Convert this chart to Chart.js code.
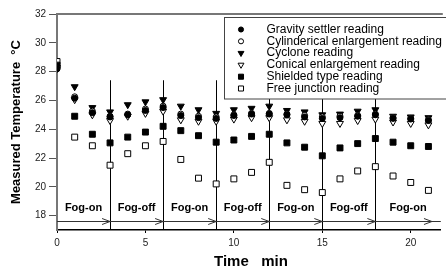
<!DOCTYPE html>
<html>
<head>
<meta charset="utf-8">
<script src="https://cdn.jsdelivr.net/npm/chart.js@4.4.1/dist/chart.umd.min.js"></script>
<style>
  html, body { margin: 0; padding: 0; background: #fff; }
</style>
</head>
<body>
<canvas id="graficoTemp" width="446" height="267"></canvas>
<script>
const times = [0, 1, 2, 3, 4, 5, 6, 7, 8, 9, 10, 11, 12, 13, 14, 15, 16, 17, 18, 19, 20, 21];

const gravity     = [28.2, 26.15, 25.15, 24.85, 25.0, 25.3, 25.5, 24.95, 24.8, 24.75, 24.95, 25.05, 25.05, 25.0, 24.85, 24.75, 24.8, 24.9, 25.0, 24.75, 24.7, 24.6];
const cylindrical = [28.2, 26.25, 25.25, 24.9, 25.05, 25.4, 25.6, 25.05, 24.9, 24.85, 25.0, 25.1, 25.1, 25.05, 24.95, 24.85, 24.9, 24.95, 25.05, 24.8, 24.75, 24.65];
const cyclone     = [28.3, 26.95, 25.5, 25.2, 25.7, 25.9, 26.05, 25.6, 25.35, 25.1, 25.35, 25.45, 25.6, 25.3, 25.2, 25.0, 25.05, 25.25, 25.35, 24.9, 24.85, 24.8];
const conical     = [28.2, 26.05, 25.0, 24.6, 24.9, 25.1, 25.25, 24.65, 24.55, 24.55, 24.7, 24.8, 24.8, 24.65, 24.55, 24.4, 24.4, 24.6, 24.7, 24.5, 24.4, 24.3];
const shielded    = [28.45, 24.9, 23.65, 23.05, 23.45, 23.8, 24.2, 23.9, 23.55, 23.1, 23.25, 23.5, 23.65, 23.05, 22.75, 22.15, 22.7, 23.0, 23.35, 23.1, 22.85, 22.8];
const freeJunction = [28.7, 23.45, 22.85, 21.5, 22.3, 22.85, 23.15, 21.9, 20.6, 20.2, 20.55, 21.0, 21.7, 20.1, 19.8, 19.6, 20.55, 21.1, 21.4, 20.75, 20.3, 19.75];

const seriesNames = ['Gravity settler reading', 'Cylinderical enlargement reading', 'Cyclone reading',
  'Conical enlargement reading', 'Shielded type reading', 'Free junction reading'];

const phaseLabels = ['Fog-on', 'Fog-off', 'Fog-on', 'Fog-off', 'Fog-on', 'Fog-off', 'Fog-on'];
const switchTimes = [3, 6, 9, 12, 15, 18];
const arrowEnds = [3, 6, 9, 12, 15, 18, 21.2];

const yTicks = [18, 20, 22, 24, 26, 28, 30, 32];
const X_MAX = 21.7, Y_MIN = 17, Y_MAX = 32;
const FONT = '"Liberation Sans", Arial, sans-serif';

const pts = vals => vals.map((v, i) => ({ x: times[i], y: v }));

function serie(i, vals, style, filled, radius, rotation) {
  return {
    label: seriesNames[i],
    data: pts(vals),
    showLine: false,
    pointStyle: style,
    pointRadius: radius,
    pointRotation: rotation || 0,
    pointBackgroundColor: filled ? '#000' : '#fff',
    pointBorderColor: '#000',
    pointBorderWidth: 1,
    pointHoverRadius: radius
  };
}

// vertical switch lines, timeline arrows, phase labels
const fogPlugin = {
  id: 'fog',
  beforeDatasetsDraw(chart) {
    const { ctx, scales: { x, y }, chartArea } = chart;
    ctx.save();
    ctx.strokeStyle = '#000';
    ctx.lineWidth = 1;
    switchTimes.forEach(t => {
      const px = Math.round(x.getPixelForValue(t)) + 0.5;
      ctx.beginPath();
      ctx.moveTo(px, y.getPixelForValue(27.4));
      ctx.lineTo(px, chartArea.bottom);
      ctx.stroke();
    });

    const ay = Math.round(y.getPixelForValue(17.65)) + 0.5;
    ctx.strokeStyle = '#333';
    ctx.beginPath();
    ctx.moveTo(chartArea.left, ay);
    ctx.lineTo(chartArea.right, ay);
    ctx.stroke();
    arrowEnds.forEach(t => {
      const px = x.getPixelForValue(t);
      ctx.beginPath();
      ctx.moveTo(px - 8, ay - 3);
      ctx.lineTo(px, ay);
      ctx.lineTo(px - 8, ay + 3);
      ctx.stroke();
    });

    const bounds = [0].concat(switchTimes, [X_MAX]);
    ctx.fillStyle = '#000';
    ctx.font = 'bold 11px ' + FONT;
    ctx.textAlign = 'center';
    ctx.textBaseline = 'middle';
    phaseLabels.forEach((lab, i) => {
      const mid = (bounds[i] + bounds[i + 1]) / 2;
      ctx.fillText(lab, x.getPixelForValue(mid), y.getPixelForValue(18.56));
    });
    ctx.restore();
  },
  afterDraw(chart) {
    const { ctx, chartArea } = chart;
    ctx.save();
    // top frame line
    ctx.strokeStyle = '#777';
    ctx.lineWidth = 2;
    ctx.beginPath();
    ctx.moveTo(chartArea.left - 1, chartArea.top);
    ctx.lineTo(chartArea.right + 2, chartArea.top);
    ctx.stroke();

    // legend box inside the plot
    const bx = 224.5, by = 17.5, bw = 230, bh = 81.5;
    ctx.fillStyle = '#fff';
    ctx.fillRect(bx, by, bw, bh);
    ctx.strokeStyle = '#444';
    ctx.lineWidth = 1;
    ctx.strokeRect(bx, by, bw, bh);

    ctx.font = '12px ' + FONT;
    ctx.textAlign = 'left';
    ctx.textBaseline = 'middle';
    chart.data.datasets.forEach((ds, i) => {
      const ry = 29.5 + i * 11.8;
      ctx.fillStyle = ds.pointBackgroundColor;
      ctx.strokeStyle = ds.pointBorderColor;
      ctx.lineWidth = 1;
      Chart.helpers.drawPoint(ctx, {
        pointStyle: ds.pointStyle,
        radius: ds.pointRadius * 0.85,
        rotation: ds.pointRotation,
        borderWidth: 1
      }, 241, ry);
      ctx.fillStyle = '#000';
      ctx.fillText(ds.label, 266.5, ry);
    });
    ctx.restore();
  }
};

new Chart(document.getElementById('graficoTemp').getContext('2d'), {
  type: 'scatter',
  data: {
    datasets: [
      serie(0, gravity, 'circle', true, 3),
      serie(1, cylindrical, 'circle', false, 3),
      serie(2, cyclone, 'triangle', true, 4, 180),
      serie(3, conical, 'triangle', false, 4, 180),
      serie(4, shielded, 'rect', true, 4.2),
      serie(5, freeJunction, 'rect', false, 4.2)
    ]
  },
  options: {
    responsive: false,
    animation: false,
    layout: { padding: { top: 14, right: 0, left: 0, bottom: 0 } },
    plugins: {
      legend: { display: false },
      tooltip: { enabled: false }
    },
    scales: {
      x: {
        type: 'linear',
        min: 0,
        max: X_MAX,
        afterFit: s => { s.height = 37; },
        ticks: {
          stepSize: 5,
          includeBounds: false,
          padding: 4,
          color: '#222',
          font: { family: FONT, size: 10 }
        },
        grid: { drawOnChartArea: false, tickLength: 3, color: '#000' },
        border: { color: '#000', width: 1.5 },
        title: {
          display: true,
          text: ' Time   min',
          color: '#000',
          font: { family: FONT, size: 15, weight: 'bold', lineHeight: 1 },
          padding: { top: 0, bottom: -2 }
        }
      },
      y: {
        min: Y_MIN,
        max: Y_MAX,
        afterFit: s => { s.width = 57; },
        afterBuildTicks: s => { s.ticks = yTicks.map(v => ({ value: v })); },
        ticks: {
          padding: 3,
          color: '#222',
          font: { family: FONT, size: 10 }
        },
        grid: { drawOnChartArea: false, tickLength: 8, color: '#555' },
        border: { color: '#777', width: 2 },
        title: {
          display: true,
          text: 'Measured Temperature  °C',
          color: '#000',
          font: { family: FONT, size: 13, weight: 'bold' },
          padding: { top: 9, bottom: 0 }
        }
      }
    }
  },
  plugins: [fogPlugin]
});
</script>
</body>
</html>
